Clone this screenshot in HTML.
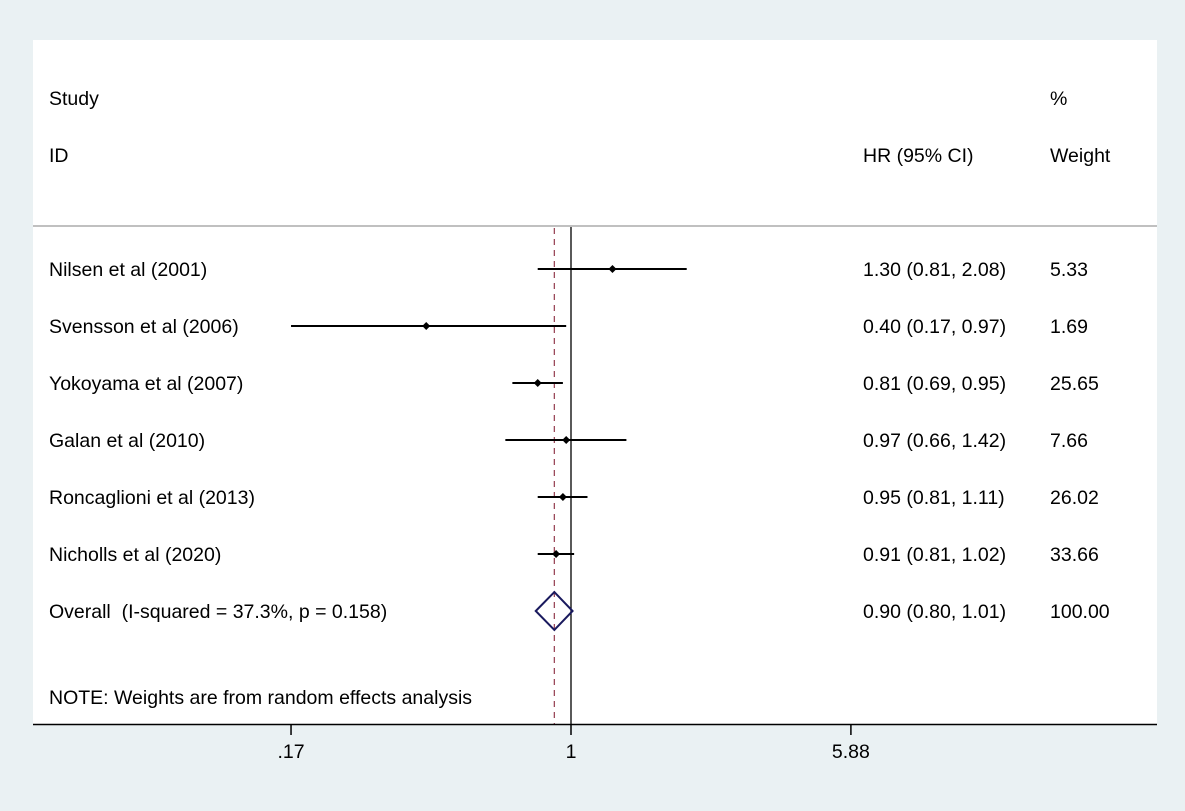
<!DOCTYPE html>
<html><head><meta charset="utf-8"><style>
body{margin:0;background:#eaf1f3}
svg{display:block}
text{font-family:"Liberation Sans",sans-serif;font-size:19.5px;fill:#000;white-space:pre}
</style></head><body>
<svg id="chart" width="1185" height="811">
<rect x="0" y="0" width="1185" height="811" fill="#eaf1f3"/>
<rect x="33" y="40" width="1124" height="684" fill="#fff"/>
<text x="49" y="105">Study</text>
<text x="49" y="162">ID</text>
<text x="863" y="162">HR (95% CI)</text>
<text x="1050" y="105">%</text>
<text x="1050" y="162">Weight</text>
<line x1="33" y1="226" x2="1157" y2="226" stroke="#c0c0c0" stroke-width="2"/>
<g id="marks"></g>
<text x="49" y="704">NOTE: Weights are from random effects analysis</text>
<line x1="33" y1="724.5" x2="1157" y2="724.5" stroke="#000" stroke-width="1.5"/>
<g id="ticks"></g>
</svg>
<script>
const studies=["Nilsen et al (2001)","Svensson et al (2006)","Yokoyama et al (2007)","Galan et al (2010)","Roncaglioni et al (2013)","Nicholls et al (2020)"];
const hr=[1.30,0.40,0.81,0.97,0.95,0.91];
const lo=[0.81,0.17,0.69,0.66,0.81,0.81];
const hi=[2.08,0.97,0.95,1.42,1.11,1.02];
const weights=["5.33","1.69","25.65","7.66","26.02","33.66"];
const overall=[0.90,0.80,1.01];
const overallLabel="Overall  (I-squared = 37.3%, p = 0.158)";
const tickVals=[0.17,1,5.88];
const tickLabels=[".17","1","5.88"];
const NS="http://www.w3.org/2000/svg";
const x=v=>571+Math.log(v)*158.0;
const rowY=i=>269+i*57;
const g=document.getElementById('marks');
function mk(tag,attrs,parent){const e=document.createElementNS(NS,tag);for(const k in attrs)e.setAttribute(k,attrs[k]);(parent||g).appendChild(e);return e;}
const f=v=>v.toFixed(2);
let dl=mk('line',{x1:x(overall[0]),y1:228,x2:x(overall[0]),y2:724,stroke:'#9b4a5a','stroke-width':1.3,'stroke-dasharray':'6,5'});


let nl=mk('line',{x1:x(1),y1:227,x2:x(1),y2:724,stroke:'#000','stroke-width':1.3});


studies.forEach((s,i)=>{
 const y=rowY(i);
 let t=mk('text',{x:49,y:y+7});t.textContent=s;
 
 
 let ci=mk('line',{x1:x(lo[i]),y1:y,x2:x(hi[i]),y2:y,stroke:'#000','stroke-width':2});
 
 
 const cx=x(hr[i]);
 let p=mk('polygon',{points:`${cx-4},${y} ${cx},${y-4} ${cx+4},${y} ${cx},${y+4}`,fill:'#000'});
 
 
 let h=mk('text',{x:863,y:y+7});h.textContent=`${f(hr[i])} (${f(lo[i])}, ${f(hi[i])})`;
 
 
 let w=mk('text',{x:1050,y:y+7});w.textContent=weights[i];
 
 
});
const oy=rowY(6);
let ot=mk('text',{x:49,y:oy+7});ot.textContent=overallLabel;


let dm=mk('polygon',{points:`${x(overall[1])},${oy} ${x(overall[0])},${oy-19} ${x(overall[2])},${oy} ${x(overall[0])},${oy+19}`,fill:'none',stroke:'#1a1a5e','stroke-width':2});


let oh=mk('text',{x:863,y:oy+7});oh.textContent=`${f(overall[0])} (${f(overall[1])}, ${f(overall[2])})`;


let ow=mk('text',{x:1050,y:oy+7});ow.textContent="100.00";


const tg=document.getElementById('ticks');
tickVals.forEach((v,i)=>{
 let l=mk('line',{x1:x(v),y1:724,x2:x(v),y2:735,stroke:'#000','stroke-width':1.5},tg);
 
 
 let t=mk('text',{x:x(v),y:758,'text-anchor':'middle'},tg);t.textContent=tickLabels[i];
 
 
});
</script>
</body></html>
